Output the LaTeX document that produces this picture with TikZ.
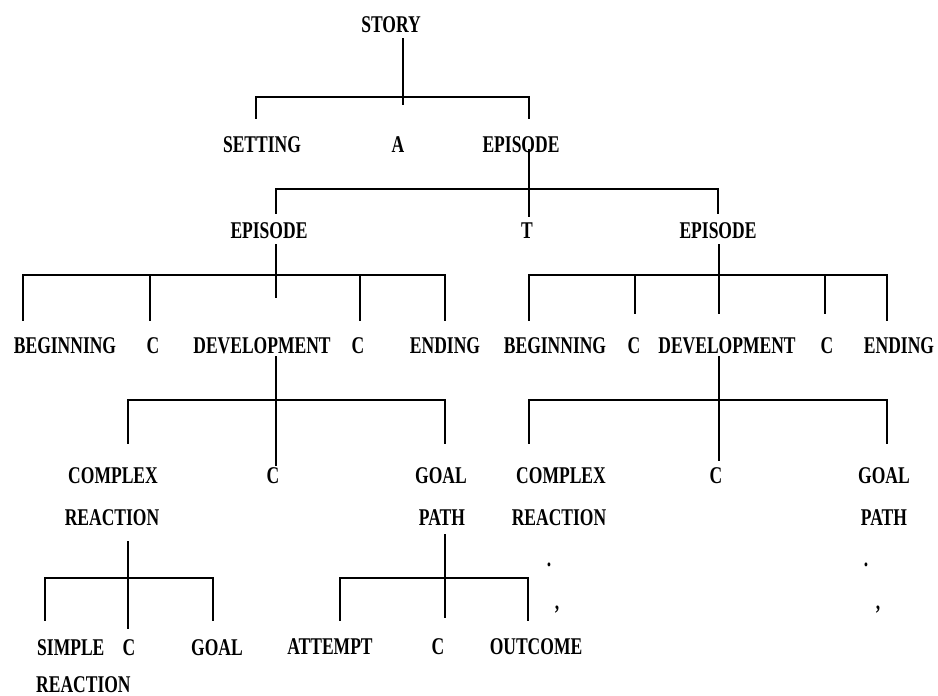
\documentclass[tikz,border=0pt]{standalone}
\usepackage{fontspec}
\setmainfont[FakeStretch=0.73]{Liberation Serif}
\begin{document}
\begin{tikzpicture}[x=1pt,y=-1pt,
  lbl/.style={inner sep=0pt, anchor=base, font=\fontsize{24}{24}\selectfont\bfseries},
  ln/.style={line width=2pt, line cap=rect, line join=miter}]
\useasboundingbox (0,0) rectangle (938,696);
% ---------- labels ----------
\node[lbl] (story) at (391,32) {STORY};
\node[lbl] (setting) at (262,152) {SETTING};
\node[lbl] (a) at (398,152) {A};
\node[lbl] (ep0) at (521,152) {EPISODE};
\node[lbl] (epL) at (269,238) {EPISODE};
\node[lbl] (t) at (527,238) {T};
\node[lbl] (epR) at (718,238) {EPISODE};
% row 3
\node[lbl] (begL) at (65,353) {BEGINNING};
\node[lbl] (cL1) at (153,353) {C};
\node[lbl] (devL) at (262,353) {DEVELOPMENT};
\node[lbl] (cL2) at (358,353) {C};
\node[lbl] (endL) at (445,353) {ENDING};
\node[lbl] (begR) at (555,353) {BEGINNING};
\node[lbl] (cR1) at (634,353) {C};
\node[lbl] (devR) at (727,353) {DEVELOPMENT};
\node[lbl] (cR2) at (827,353) {C};
\node[lbl] (endR) at (899,353) {ENDING};
% row 4
\node[lbl] (cxL) at (113,483) {COMPLEX};
\node[lbl] (rxL) at (112,525) {REACTION};
\node[lbl] (cL3) at (273,483) {C};
\node[lbl] (glL) at (441,483) {GOAL};
\node[lbl] (paL) at (442,525) {PATH};
\node[lbl] (cxR) at (561,483) {COMPLEX};
\node[lbl] (rxR) at (559,525) {REACTION};
\node[lbl] (cR3) at (716,483) {C};
\node[lbl] (glR) at (884,483) {GOAL};
\node[lbl] (paR) at (884,525) {PATH};
% dots
\node[lbl] (d1) at (549,566) {.};
\node[lbl] (d2) at (557,609) {,};
\node[lbl] (d3) at (866,566) {.};
\node[lbl] (d4) at (878,609) {,};
% row 5
\node[lbl, anchor=base west] (simple) at (37,655) {SIMPLE};
\node[lbl, anchor=base west] (simple2) at (36,692) {REACTION};
\node[lbl] (cL4) at (129,655) {C};
\node[lbl] (goal) at (217,655) {GOAL};
\node[lbl] (attempt) at (330,654) {ATTEMPT};
\node[lbl] (cL5) at (438,654) {C};
\node[lbl] (outcome) at (536,654) {OUTCOME};
% ---------- connectors ----------
% STORY
\draw[ln] (403,39) -- (403,104);
\draw[ln] (256,118) -- (256,97) -- (529,97) -- (529,118);
% EPISODE (top)
\draw[ln] (529,150) -- (529,216);
\draw[ln] (276,213) -- (276,189) -- (718,189) -- (718,213);
% EPISODE left
\draw[ln] (276,245) -- (276,297);
\draw[ln] (23,320) -- (23,275) -- (445,275) -- (445,320);
\draw[ln] (150,275) -- (150,320);
\draw[ln] (360,275) -- (360,320);
% EPISODE right
\draw[ln] (719,245) -- (719,313);
\draw[ln] (529,320) -- (529,275) -- (887,275) -- (887,320);
\draw[ln] (635,275) -- (635,313);
\draw[ln] (825,275) -- (825,313);
% DEVELOPMENT left
\draw[ln] (276,357) -- (276,465);
\draw[ln] (128,443) -- (128,400) -- (445,400) -- (445,443);
% DEVELOPMENT right
\draw[ln] (719,357) -- (719,460);
\draw[ln] (529,443) -- (529,400) -- (887,400) -- (887,443);
% COMPLEX REACTION left
\draw[ln] (128,542) -- (128,628);
\draw[ln] (45,620) -- (45,578) -- (213,578) -- (213,620);
% GOAL PATH left
\draw[ln] (445,535) -- (445,617);
\draw[ln] (340,620) -- (340,578) -- (528,578) -- (528,620);
\end{tikzpicture}
\end{document}
